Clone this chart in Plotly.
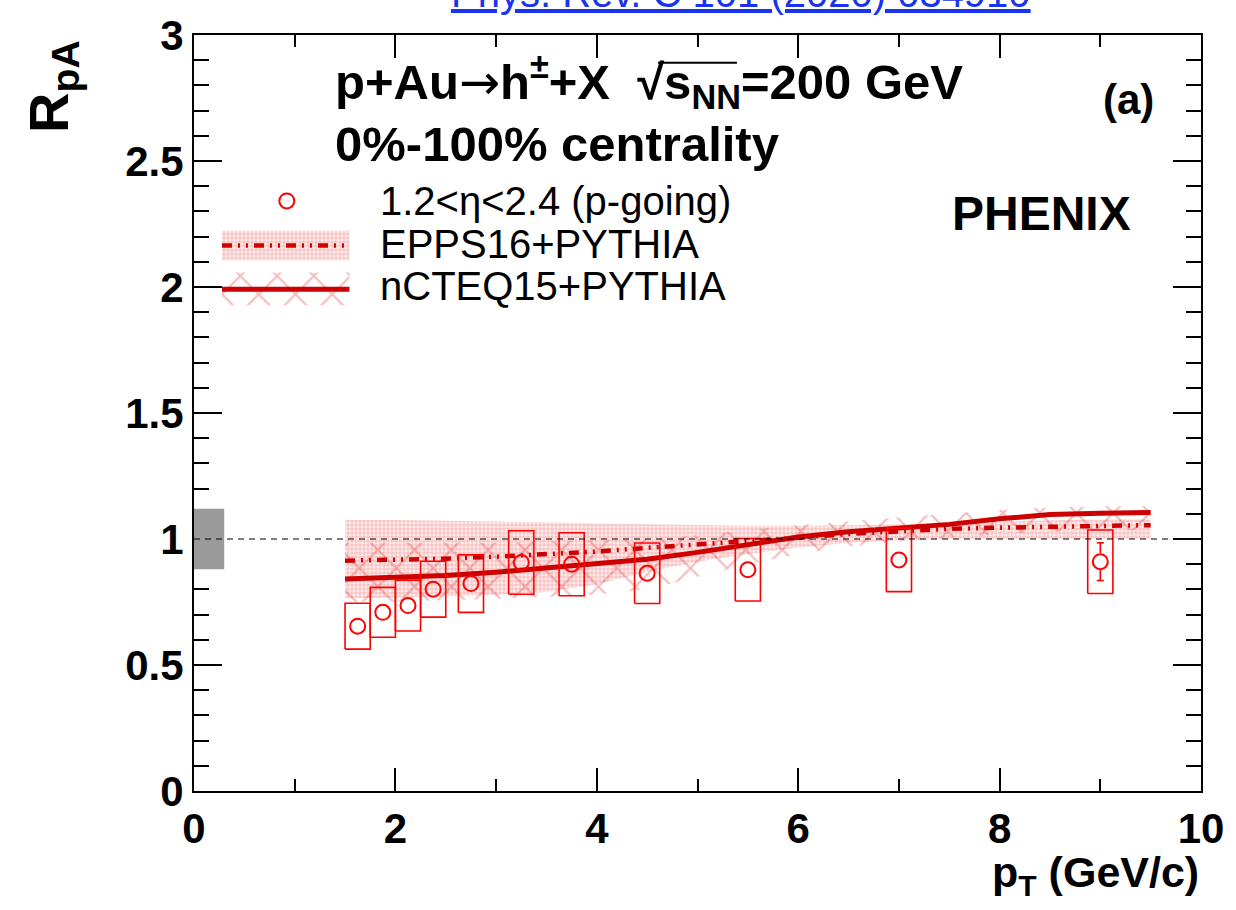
import plotly.graph_objects as go

# ---------------- data ----------------
# PHENIX p+Au -> h+/- + X, 1.2 < eta < 2.4, 0-100% centrality
pt = [1.625, 1.875, 2.125, 2.375, 2.75, 3.25, 3.75, 4.5, 5.5, 7.0, 9.0]
rpa = [0.654, 0.709, 0.736, 0.801, 0.823, 0.907, 0.900, 0.864, 0.878, 0.917, 0.910]
stat = [0.010, 0.010, 0.010, 0.012, 0.012, 0.015, 0.015, 0.020, 0.025, 0.030, 0.075]
sys_err = [0.091, 0.099, 0.101, 0.111, 0.114, 0.126, 0.125, 0.120, 0.124, 0.126, 0.126]
global_unc = 0.12

# model curves
th_pt = [1.5, 2.0, 2.5, 3.0, 3.5, 4.0, 4.5, 5.0, 5.5, 6.0, 6.5, 7.0, 7.5, 8.0, 8.5, 9.0, 9.5]
epps_c = [0.914, 0.917, 0.922, 0.930, 0.940, 0.950, 0.965, 0.980, 0.992, 1.005, 1.020, 1.030, 1.040, 1.045, 1.048, 1.052, 1.055]
epps_hi = [1.075, 1.075, 1.072, 1.070, 1.066, 1.062, 1.058, 1.055, 1.053, 1.053, 1.055, 1.058, 1.062, 1.068, 1.074, 1.077, 1.078]
epps_lo = [0.765, 0.768, 0.772, 0.778, 0.790, 0.820, 0.870, 0.910, 0.940, 0.965, 0.985, 0.995, 1.000, 1.000, 1.000, 1.000, 1.000]
ncteq_c = [0.841, 0.847, 0.855, 0.868, 0.884, 0.901, 0.920, 0.947, 0.976, 1.008, 1.029, 1.044, 1.058, 1.080, 1.097, 1.102, 1.105]
ncteq_hi = [0.985, 0.985, 0.985, 0.985, 0.990, 0.995, 1.000, 1.015, 1.035, 1.055, 1.070, 1.085, 1.100, 1.115, 1.125, 1.130, 1.130]
ncteq_lo = [0.750, 0.752, 0.757, 0.763, 0.770, 0.780, 0.800, 0.850, 0.900, 0.940, 0.970, 0.990, 1.005, 1.020, 1.030, 1.035, 1.035]

x_ticks = [0, 2, 4, 6, 8, 10]
y_ticks = [0, 0.5, 1, 1.5, 2, 2.5, 3]

# ---------------- styling ----------------
W, H = 1236, 910
L, R, T, B = 194, 33, 30, 119
PW, PH = W - L - R, H - T - B
FONT = "Liberation Sans, Arial, Helvetica, sans-serif"
RED = "#ff0000"
DARK = "#cc0000"
DASHDOT = "10px,6px,2px,6px,2px,6px"
BOX_HW = 0.125          # half width of systematic boxes in pT
MARKER_D = 15
epps_pattern = dict(shape=".", size=4, solidity=0.6,
                    fgcolor="rgba(232,100,100,0.6)", bgcolor="rgba(255,215,215,0.45)")
ncteq_pattern = dict(shape="x", size=26, solidity=0.16,
                     fgcolor="rgba(225,60,60,0.7)", bgcolor="rgba(0,0,0,0)")


def px(xp):
    return (xp - L) / PW


def py(yp):
    return (H - B - yp) / PH


fig = go.Figure()

# EPPS16 band
fig.add_trace(go.Scatter(
    x=th_pt + th_pt[::-1], y=epps_hi + epps_lo[::-1],
    fill="toself", fillcolor="rgba(0,0,0,0)", fillpattern=epps_pattern,
    line=dict(width=0), mode="lines", hoverinfo="skip", showlegend=False))
# nCTEQ15 band
fig.add_trace(go.Scatter(
    x=th_pt + th_pt[::-1], y=ncteq_hi + ncteq_lo[::-1],
    fill="toself", fillcolor="rgba(0,0,0,0)", fillpattern=ncteq_pattern,
    line=dict(width=0), mode="lines", hoverinfo="skip", showlegend=False))
# central curves
fig.add_trace(go.Scatter(x=th_pt, y=epps_c, mode="lines",
                         line=dict(color=DARK, width=4.5, dash=DASHDOT),
                         showlegend=False))
fig.add_trace(go.Scatter(x=th_pt, y=ncteq_c, mode="lines",
                         line=dict(color=DARK, width=5),
                         showlegend=False))

# systematic boxes
bx, by = [], []
for x, y, s in zip(pt, rpa, sys_err):
    bx += [x - BOX_HW, x + BOX_HW, x + BOX_HW, x - BOX_HW, x - BOX_HW, None]
    by += [y - s, y - s, y + s, y + s, y - s, None]
fig.add_trace(go.Scatter(x=bx, y=by, mode="lines",
                         line=dict(color=RED, width=1.6), showlegend=False))

# statistical error bars, drawn outside the open marker
r_data = (MARKER_D / 2 + 1) * 3.0 / PH
ex, ey = [], []
cap = 0.035
for x, y, s in zip(pt, rpa, stat):
    if s > r_data:
        ex += [x, x, None, x, x, None, x - cap, x + cap, None, x - cap, x + cap, None]
        ey += [y + r_data, y + s, None, y - r_data, y - s, None, y + s, y + s, None, y - s, y - s, None]
fig.add_trace(go.Scatter(x=ex, y=ey, mode="lines",
                         line=dict(color=RED, width=1.6), showlegend=False))

# data points
fig.add_trace(go.Scatter(x=pt, y=rpa, mode="markers",
                         marker=dict(symbol="circle-open", size=MARKER_D,
                                     color=RED, line=dict(width=2, color=RED)),
                         showlegend=False))

# ---------------- legend swatches (own small axes in pixel units) ----------------
LX0, LX1, LY0, LY1 = 222, 350, 180, 305
lg = dict(xaxis="x2", yaxis="y2", showlegend=False, hoverinfo="skip")
fig.add_trace(go.Scatter(x=[287], y=[197], mode="markers",
                         marker=dict(symbol="circle-open", size=MARKER_D, color=RED,
                                     line=dict(width=2, color=RED)), **lg))
fig.add_trace(go.Scatter(x=[222, 350, 350, 222, 222], y=[227, 227, 257, 257, 227],
                         fill="toself", fillcolor="rgba(0,0,0,0)", fillpattern=epps_pattern,
                         mode="lines", line=dict(width=0), **lg))
fig.add_trace(go.Scatter(x=[222, 350], y=[242, 242], mode="lines",
                         line=dict(color=DARK, width=4.5, dash=DASHDOT), **lg))
fig.add_trace(go.Scatter(x=[222, 350, 350, 222, 222], y=[269, 269, 302, 302, 269],
                         fill="toself", fillcolor="rgba(0,0,0,0)", fillpattern=ncteq_pattern,
                         mode="lines", line=dict(width=0), **lg))
fig.add_trace(go.Scatter(x=[222, 350], y=[286, 286], mode="lines",
                         line=dict(color=DARK, width=5), **lg))

# ---------------- shapes ----------------
shapes = [
    # global normalisation uncertainty
    dict(type="rect", xref="x", yref="y", x0=0, x1=0.3,
         y0=1 - global_unc, y1=1 + global_unc,
         fillcolor="#9a9a9a", line=dict(width=0), layer="above"),
    # unity reference line
    dict(type="line", xref="x", yref="y", x0=0, x1=10, y0=1, y1=1,
         line=dict(color="black", width=1.2, dash="6px,5px"), layer="above"),
    # overline of the square root
    dict(type="line", xref="paper", yref="paper", x0=px(659), x1=px(738),
         y0=py(58), y1=py(58), line=dict(color="black", width=2)),
]

# ---------------- text ----------------
def note(text, x, y, size, xanchor="left", yanchor="middle", bold=True, color="black", angle=0):
    return dict(text=text, x=px(x), y=py(y), xref="paper", yref="paper",
                xanchor=xanchor, yanchor=yanchor, showarrow=False, textangle=angle,
                font=dict(family=FONT, size=size, color=color,
                          weight="bold" if bold else "normal"))


ARROW = "<span style='font-family:DejaVu Sans;font-weight:normal'>\u2192</span>"
annotations = [
    note("<u>Phys. Rev. C 101 (2020) 034910</u>", 742, -12, 40, xanchor="center",
         bold=False, color="#1a33ee"),
    note("p+Au" + ARROW + "h<sup>\u00b1</sup>+X\u00a0\u00a0\u221as<sub>NN</sub>=200 GeV", 333, 77, 49),
    note("0%-100% centrality", 333, 140, 49),
    note("(a)", 1130, 95, 42, xanchor="center"),
    note("PHENIX", 1043, 210, 48, xanchor="center"),
    note("1.2<\u03b7<2.4 (p-going)", 378, 197, 40, bold=False),
    note("EPPS16+PYTHIA", 378, 240, 40, bold=False),
    note("nCTEQ15+PYTHIA", 378, 283, 40, bold=False),
    note("p<sub>T</sub> (GeV/c)", 1203, 876, 43, xanchor="right"),
    note("R<sub>pA</sub>", 52, 82, 56, xanchor="center", angle=-90),
]

axis_common = dict(showline=True, linecolor="black", linewidth=2, mirror="allticks",
                   ticks="inside", tickcolor="black", tickwidth=1.6,
                   showgrid=False, zeroline=False,
                   tickfont=dict(family=FONT, size=42, color="black", weight="bold"))

fig.update_layout(
    width=W, height=H,
    margin=dict(l=L, r=R, t=T, b=B),
    paper_bgcolor="white", plot_bgcolor="white",
    xaxis=dict(range=[0, 10], tickvals=x_ticks, ticklen=23,
               minor=dict(dtick=1, ticklen=12, ticks="inside", tickcolor="black", tickwidth=1.6),
               **axis_common),
    yaxis=dict(range=[0, 3], tickvals=y_ticks, ticklen=28,
               minor=dict(dtick=0.1, ticklen=15, ticks="inside", tickcolor="black", tickwidth=1.6),
               **axis_common),
    xaxis2=dict(domain=[px(LX0), px(LX1)], range=[LX0, LX1], anchor="y2",
                visible=False, fixedrange=True),
    yaxis2=dict(domain=[py(LY1), py(LY0)], range=[LY1, LY0], anchor="x2",
                visible=False, fixedrange=True),
    shapes=shapes, annotations=annotations,
    showlegend=False,
)

fig.write_html("out.html")
